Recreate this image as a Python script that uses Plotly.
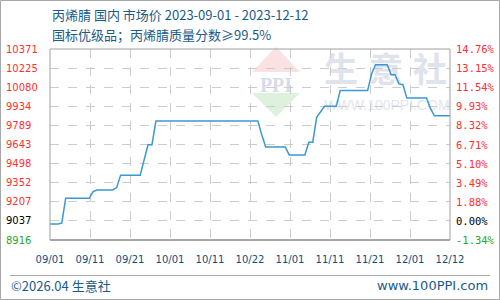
import plotly.graph_objects as go
import pandas as pd

# ---------------- data ----------------
start_date = "2023-09-01"
end_date = "2023-12-12"
dates = pd.date_range(start_date, end_date, freq="D")

prices = [
    9037, 9037, 9037, 9045, 9234, 9234, 9234, 9234, 9234, 9234,
    9234, 9285, 9297, 9297, 9297, 9297, 9297, 9315, 9410, 9410,
    9410, 9410, 9410, 9410, 9526, 9641, 9641, 9822, 9822, 9822,
    9822, 9822, 9822, 9822, 9822, 9822, 9822, 9822, 9822, 9822,
    9822, 9822, 9822, 9822, 9822, 9822, 9822, 9822, 9822, 9822,
    9822, 9822, 9822, 9822, 9717, 9625, 9625, 9625, 9625, 9625,
    9625, 9564, 9564, 9564, 9564, 9564, 9661, 9661, 9850, 9893,
    9934, 9934, 9934, 9934, 10055, 10055, 10055, 10055, 10055, 10055,
    10055, 10055, 10180, 10251, 10251, 10251, 10251, 10175, 10175, 10105,
    10099, 9997, 9997, 9997, 9997, 9997, 9997, 9921, 9862, 9862,
    9862, 9862, 9862,
]

x_tick_labels = ["09/01", "09/11", "09/21", "10/01", "10/11", "10/22",
                 "11/01", "11/11", "11/21", "12/01", "12/12"]

# bottom -> top
left_labels = ["8916", "9037", "9207", "9352", "9498", "9643",
               "9789", "9934", "10080", "10225", "10371"]
right_labels = ["-1.34%", "0.00%", "1.88%", "3.49%", "5.10%", "6.71%",
                "8.32%", "9.93%", "11.54%", "13.15%", "14.76%"]

title_line1 = "丙烯腈 国内 市场价 2023-09-01 - 2023-12-12"
title_line2 = "国标优级品；丙烯腈质量分数≥99.5%"
footer_left = "©2026.04 生意社"
footer_right = "www.100PPI.com"

# ---------------- layout helpers ----------------
W, H = 500, 300
L, R, T, B = 50, 450, 49, 240   # plot area in pixels


def px(x):
    return (x - L) / (R - L)


def py(y):
    return (B - y) / (B - T)


y_min, y_max = float(left_labels[0]), float(left_labels[-1])
n_ticks = len(left_labels)
y_tickvals = [y_min + i * (y_max - y_min) / (n_ticks - 1) for i in range(n_ticks)]

d0, d1 = dates[0], dates[-1]
x_tickvals = [d0 + (d1 - d0) * i / (len(x_tick_labels) - 1) for i in range(len(x_tick_labels))]

RED = "#ff3030"
GREEN = "#2aa52a"
BLACK = "#000000"
BLUE_TXT = "#1a5b8a"


def label_color(txt):
    if txt.startswith("-"):
        return GREEN
    if txt in ("0.00%",):
        return BLACK
    return RED


fig = go.Figure()
fig.add_trace(go.Scatter(
    x=dates, y=prices, mode="lines",
    line=dict(color="#3a98d4", width=1.5),
    hoverinfo="x+y", showlegend=False,
))

annotations = []
# title
annotations.append(dict(text=title_line1, xref="paper", yref="paper", x=0, y=py(14.5),
                        xanchor="left", yanchor="middle", showarrow=False,
                        font=dict(family="Noto Sans CJK SC", size=13, color=BLUE_TXT)))
annotations.append(dict(text=title_line2, xref="paper", yref="paper", x=0, y=py(34),
                        xanchor="left", yanchor="middle", showarrow=False,
                        font=dict(family="Noto Sans CJK SC", size=13, color=BLUE_TXT)))
# footer
annotations.append(dict(text=footer_left, xref="paper", yref="paper", x=px(9), y=py(285),
                        xanchor="left", yanchor="middle", showarrow=False,
                        font=dict(family="Noto Sans CJK SC", size=13, color=BLUE_TXT)))
annotations.append(dict(text=footer_right, xref="paper", yref="paper", x=px(490), y=py(285),
                        xanchor="right", yanchor="middle", showarrow=False,
                        font=dict(family="DejaVu Sans", size=13, color=BLUE_TXT)))

# left / right axis labels
for i, (lt, rt) in enumerate(zip(left_labels, right_labels)):
    lc = GREEN if i == 0 else (BLACK if i == 1 else RED)
    annotations.append(dict(text=lt, xref="paper", yref="y", x=px(4), y=y_tickvals[i],
                            xanchor="left", yanchor="middle", showarrow=False,
                            font=dict(family="DejaVu Sans", size=10, color=lc)))
    annotations.append(dict(text=rt, xref="paper", yref="y", x=px(454), y=y_tickvals[i],
                            xanchor="left", yanchor="middle", showarrow=False,
                            font=dict(family="DejaVu Sans Mono", size=10.5, color=label_color(rt))))

shapes = []
# watermark logo (below grid)
shapes.append(dict(type="path", xref="paper", yref="paper", layer="below",
                   path=f"M {px(252)} {py(72)} L {px(300)} {py(72)} L {px(276)} {py(47)} Z",
                   fillcolor="#fbe2e2", line=dict(width=0)))
shapes.append(dict(type="path", xref="paper", yref="paper", layer="below",
                   path=f"M {px(252)} {py(93)} L {px(300)} {py(93)} L {px(276)} {py(117)} Z",
                   fillcolor="#ddf1dd", line=dict(width=0)))
shapes.append(dict(type="rect", xref="paper", yref="paper", layer="below",
                   x0=px(252), x1=px(300), y0=py(92), y1=py(73),
                   line=dict(width=0), fillcolor="rgba(0,0,0,0)",
                   label=dict(text="<b>PPI</b>", textposition="middle center",
                              font=dict(family="Liberation Serif", size=20, color="#d5dcea"))))
for ch, cx in zip("生意社", [341, 386, 430]):
    shapes.append(dict(type="rect", xref="paper", yref="paper", layer="below",
                       x0=px(cx - 20), x1=px(cx + 20), y0=py(90), y1=py(54),
                       line=dict(width=0), fillcolor="rgba(0,0,0,0)",
                       label=dict(text=f"<b>{ch}</b>", textposition="middle center",
                                  font=dict(family="Noto Sans CJK SC", size=34, color="#dfe3ec"))))
shapes.append(dict(type="rect", xref="paper", yref="paper", layer="below",
                   x0=px(322), x1=px(452), y0=py(112), y1=py(95),
                   line=dict(width=0), fillcolor="rgba(0,0,0,0)",
                   label=dict(text="WWW.100PPI.COM", textposition="middle center",
                              font=dict(family="Liberation Sans", size=14, color="#e2e5ed"))))
# footer separator
shapes.append(dict(type="line", xref="paper", yref="paper",
                   x0=px(10), x1=px(490), y0=py(275.5), y1=py(275.5),
                   line=dict(color="#aaaaaa", width=1)))
# outer border
shapes.append(dict(type="rect", xref="paper", yref="paper",
                   x0=px(0.5), x1=px(499.5), y0=py(299.5), y1=py(0.5),
                   line=dict(color="#a8a8a8", width=1)))
# plot border
shapes.append(dict(type="rect", xref="paper", yref="paper",
                   x0=0, x1=1, y0=0, y1=1,
                   line=dict(color="#a0a0a0", width=1)))
shapes.append(dict(type="line", xref="paper", yref="paper",
                   x0=0, x1=1, y0=0, y1=0,
                   line=dict(color="#999999", width=1.5)))

fig.update_layout(
    width=W, height=H,
    margin=dict(l=L, r=W - R, t=T, b=H - B),
    paper_bgcolor="white", plot_bgcolor="white",
    annotations=annotations, shapes=shapes,
    showlegend=False,
    xaxis=dict(
        range=[d0, d1], tickvals=x_tickvals, ticktext=x_tick_labels,
        showgrid=True, gridcolor="#cccccc", griddash="dash", gridwidth=1,
        zeroline=False, showline=False, ticks="",
        tickfont=dict(family="DejaVu Sans", size=10, color="#0f4f80"),
        ticklabelstandoff=12,
    ),
    yaxis=dict(
        range=[y_min, y_max], tickvals=y_tickvals, showticklabels=False,
        showgrid=True, gridcolor="#cccccc", griddash="dash", gridwidth=1,
        zeroline=False, showline=False, ticks="",
    ),
)

fig.write_html("out.html")
